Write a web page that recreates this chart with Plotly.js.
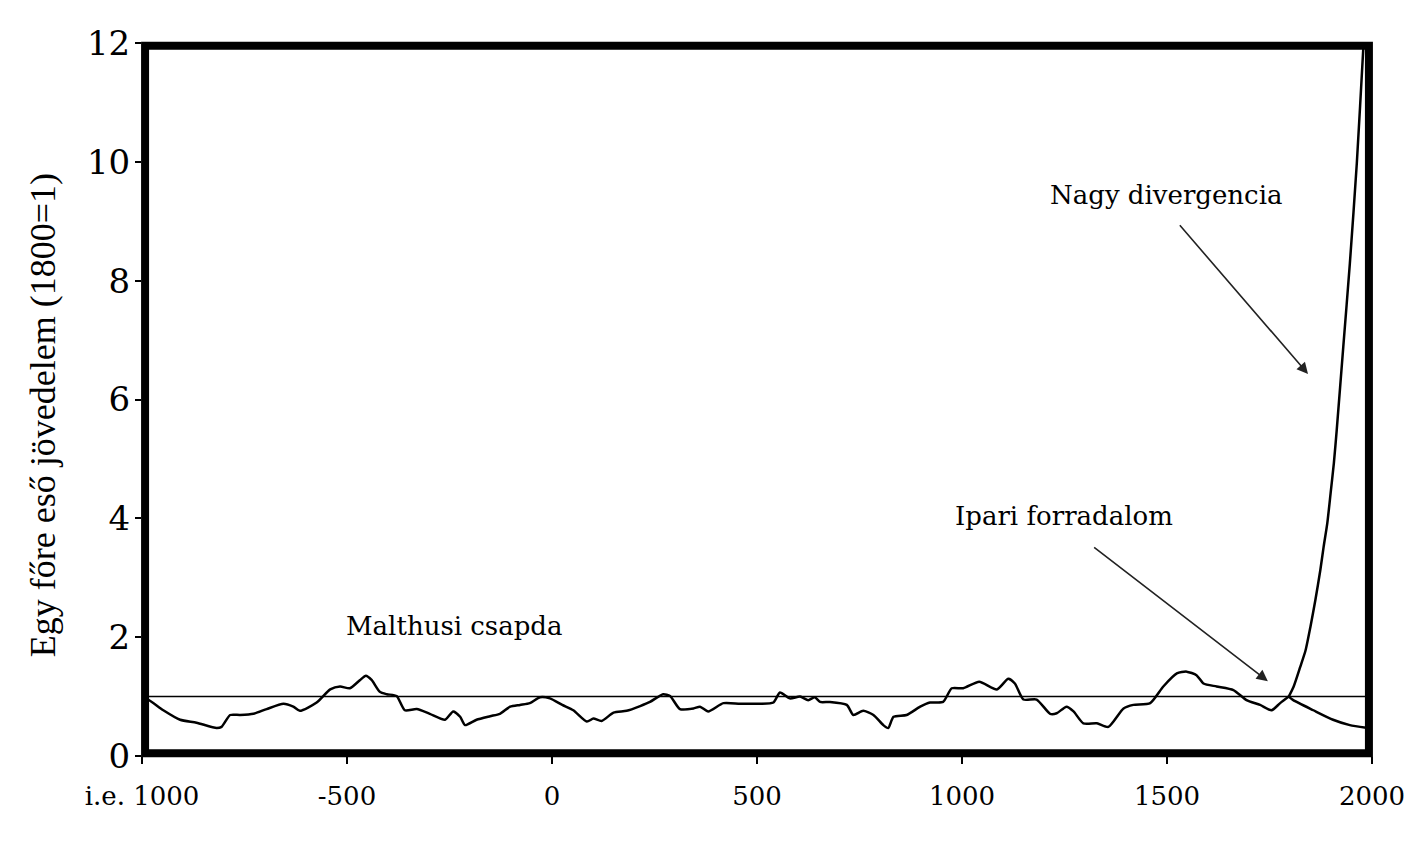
<!DOCTYPE html>
<html>
<head>
<meta charset="utf-8">
<script src="https://cdn.plot.ly/plotly-3.0.1.min.js"></script>
<style>html,body{margin:0;padding:0;background:#fff;}#chart{width:1426px;height:861px;}</style>
</head>
<body>
<div id="chart"></div>
<script>
// Main series (before the divergence)
const years = [-1000,-985,-948,-907,-867,-818,-806,-785,-761,-728,-696,-655,-631,-615,-574,-541,-517,-493,-468,-454,-440,-420,-403,-379,-359,-330,-298,-261,-241,-224,-212,-184,-151,-127,-102,-78,-54,-29,-5,25,52,85,101,121,150,182,215,239,271,288,312,345,361,381,418,459,507,540,556,580,605,625,641,654,678,719,735,759,784,808,820,833,865,898,922,954,975,1003,1042,1085,1113,1129,1150,1182,1215,1231,1255,1272,1296,1329,1357,1394,1418,1459,1491,1524,1548,1572,1589,1621,1662,1694,1727,1755,1776,1797];
const income = [0.98,0.95,0.77,0.61,0.56,0.47,0.49,0.69,0.69,0.71,0.79,0.88,0.83,0.76,0.90,1.12,1.17,1.14,1.28,1.35,1.28,1.08,1.04,1.01,0.77,0.79,0.71,0.61,0.75,0.66,0.52,0.61,0.67,0.71,0.83,0.86,0.89,0.99,0.97,0.86,0.77,0.58,0.63,0.59,0.73,0.76,0.84,0.91,1.04,1.01,0.79,0.80,0.83,0.75,0.89,0.88,0.88,0.90,1.07,0.97,1.00,0.94,0.99,0.91,0.91,0.86,0.69,0.76,0.69,0.52,0.47,0.66,0.69,0.83,0.90,0.91,1.14,1.14,1.25,1.12,1.30,1.22,0.95,0.95,0.71,0.72,0.83,0.75,0.55,0.55,0.49,0.80,0.86,0.89,1.17,1.39,1.42,1.36,1.22,1.17,1.11,0.94,0.86,0.77,0.89,1.00];
// Rich branch ("Nagy divergencia")
const richYears = [1797,1809,1825,1838,1850,1862,1874,1882,1891,1899,1907,1914,1930,1946,1963,1979,1985];
const richIncome = [1.00,1.17,1.50,1.78,2.18,2.63,3.13,3.52,3.92,4.42,4.93,5.49,6.89,8.29,9.98,11.94,12.7];
// Poor branch
const poorYears = [1797,1808,1857,1905,1946,1990,2000];
const poorIncome = [1.00,0.94,0.77,0.61,0.52,0.47,0.46];
// Reference level (1800 = 1)
const refYears = [-1000,2000];
const refIncome = [1,1];

const xTickVals = [-1000,-500,0,500,1000,1500,2000];
const xTickText = ['i.e. 1000','-500','0','500','1000','1500','2000'];
const yTickVals = [0,2,4,6,8,10,12];
const yTickText = ['0','2','4','6','8','10','12'];

const lineStyle = {color:'#000', width:2.5, shape:'spline', smoothing:0.6};
const traces = [
  {x:refYears, y:refIncome, mode:'lines', line:{color:'#000', width:1.5}, hoverinfo:'skip'},
  {x:years, y:income, mode:'lines', line:lineStyle},
  {x:richYears, y:richIncome, mode:'lines', line:lineStyle},
  {x:poorYears, y:poorIncome, mode:'lines', line:lineStyle}
];

const annFont = {family:'DejaVu Serif', size:26, color:'#000'};
const layout = {
  width:1426, height:861,
  margin:{l:142, r:54, t:43, b:105},
  paper_bgcolor:'#fff', plot_bgcolor:'#fff',
  showlegend:false,
  xaxis:{range:[-1000,2000], tickvals:xTickVals, ticktext:xTickText, showgrid:false, zeroline:false,
         showline:false, ticks:'outside', ticklen:7, tickwidth:2, tickcolor:'#000',
         ticklabelstandoff:10, tickfont:{family:'DejaVu Serif', size:26, color:'#000'}},
  yaxis:{range:[0,12], tickvals:yTickVals, ticktext:yTickText, showgrid:false, zeroline:false,
         showline:false, ticks:'outside', ticklen:6, tickwidth:2, tickcolor:'#000',
         ticklabelstandoff:-2, tickfont:{family:'DejaVu Serif', size:34, color:'#000'}},
  shapes:[{type:'rect', xref:'paper', yref:'paper', x0:0.0025, x1:0.9975, y0:0.004, y1:0.996,
           line:{color:'#000', width:8}, fillcolor:'rgba(0,0,0,0)'}],
  annotations:[
    {text:'Egy főre eső jövedelem (1800=1)', xref:'paper', yref:'paper', x:-0.0805, y:0.478,
     textangle:-90, showarrow:false, xanchor:'center', yanchor:'middle',
     font:{family:'Liberation Serif, Times New Roman, serif', size:36, color:'#000'}},
    {text:'Nagy divergencia', x:1498, y:9.44, showarrow:false, font:annFont},
    {text:'Ipari forradalom', x:1249, y:4.04, showarrow:false, font:annFont},
    {text:'Malthusi csapda', x:-239, y:2.19, showarrow:false, font:annFont},
    {text:' ', x:1844, y:6.43, ax:1524, ay:8.99, axref:'x', ayref:'y', showarrow:true,
     arrowhead:2, arrowsize:1.4, arrowwidth:1.6, arrowcolor:'#222', standoff:0, startstandoff:0},
    {text:' ', x:1746, y:1.26, ax:1315, ay:3.55, axref:'x', ayref:'y', showarrow:true,
     arrowhead:2, arrowsize:1.4, arrowwidth:1.6, arrowcolor:'#222', standoff:0, startstandoff:0}
  ]
};
Plotly.newPlot('chart', traces, layout, {displayModeBar:false, staticPlot:true});
</script>
</body>
</html>
